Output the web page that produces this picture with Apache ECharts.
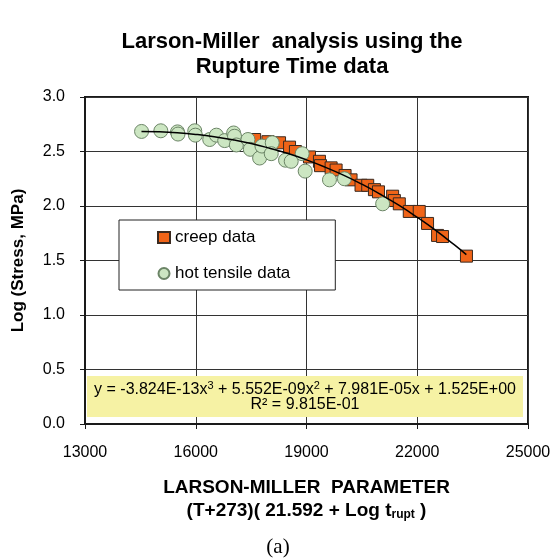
<!DOCTYPE html>
<html>
<head>
<meta charset="utf-8">
<script src="https://cdn.jsdelivr.net/npm/echarts@6/dist/echarts.min.js"></script>
<style>
html,body{margin:0;padding:0;background:#fff;}
#main{width:554px;height:559px;}
</style>
</head>
<body>
<div id="main"></div>
<script>
// creep data (squares)
var creepX = [17595,17955,18270,18541,18700,19081,19351,19380,19667,19802,20045,20207,20477,20658,20840,20950,21333,21380,21514,21784,22054,22279,22550,22685,23333];
var creepY = [2.61,2.59,2.58,2.54,2.50,2.45,2.41,2.37,2.35,2.33,2.28,2.24,2.19,2.19,2.15,2.13,2.09,2.05,2.02,1.95,1.95,1.84,1.73,1.72,1.54];
// hot tensile data (circles)
var hotX = [14532,15054,15505,15520,15973,15990,16378,16559,16784,17027,17050,17100,17414,17478,17730,17793,18072,18045,18432,18586,18883,18964,19622,20027,21063];
var hotY = [2.684,2.69,2.68,2.66,2.69,2.65,2.61,2.65,2.60,2.67,2.64,2.56,2.61,2.52,2.44,2.55,2.58,2.48,2.42,2.41,2.48,2.32,2.24,2.25,2.02];
// polynomial trend line
var trendX = [14530,15000,15500,16000,16500,17000,17500,18000,18500,19000,19500,20000,20500,21000,21500,22000,22500,23000,23330];
var trendY = [2.684,2.681,2.672,2.657,2.636,2.608,2.573,2.530,2.481,2.423,2.357,2.283,2.200,2.108,2.007,1.896,1.776,1.645,1.554];
var yTicks = ['0.0','0.5','1.0','1.5','2.0','2.5','3.0'];

function pairs(xs, ys) {
  var out = [];
  for (var i = 0; i < xs.length; i++) out.push([xs[i], ys[i]]);
  return out;
}

var chart = echarts.init(document.getElementById('main'));
var font = 'Liberation Sans, Arial, sans-serif';
chart.setOption({
  animation: false,
  title: {
    text: 'Larson-Miller  analysis using the\nRupture Time data',
    left: 292, top: 29,
    textAlign: 'center',
    padding: 0,
    textStyle: {fontFamily: font, fontSize: 22, fontWeight: 'bold', color: '#000', lineHeight: 25}
  },
  legend: {
    orient: 'vertical',
    left: 119, top: 220,
    padding: [9, 45, 8, 38],
    itemGap: 19,
    itemWidth: 12, itemHeight: 11,
    backgroundColor: '#fff',
    borderColor: '#222', borderWidth: 1,
    borderRadius: 0,
    textStyle: {fontFamily: font, fontSize: 17, color: '#000'},
    data: [{name: 'creep data', icon: 'rect'}, {name: 'hot tensile data', icon: 'circle'}]
  },
  grid: {
    left: 85, right: 26, top: 97, bottom: 135,
    show: true, borderColor: '#1a1a1a', borderWidth: 2
  },
  xAxis: {
    type: 'value',
    min: 13000, max: 25000, interval: 3000,
    axisLine: {show: true, onZero: false, lineStyle: {color: '#1a1a1a', width: 2}},
    axisTick: {show: true, inside: false, length: 5, lineStyle: {color: '#1a1a1a'}},
    splitLine: {show: true, lineStyle: {color: '#333', width: 1}},
    axisLabel: {
      margin: 21, fontFamily: font, fontSize: 16, color: '#000',
      formatter: function (v) { return String(v); }
    },
    name: '{b|LARSON-MILLER  PARAMETER}\n{b|(T+273)( 21.592 + Log t}{sub|rupt}{b| )}',
    nameLocation: 'middle',
    nameGap: 52,
    nameTextStyle: {
      align: 'center',
      rich: {
        b: {fontFamily: font, fontSize: 19, fontWeight: 'bold', color: '#000', lineHeight: 23},
        sub: {fontFamily: font, fontSize: 12, fontWeight: 'bold', color: '#000', lineHeight: 23, padding: [8, 0, 0, 0]}
      }
    }
  },
  yAxis: {
    type: 'value',
    min: 0, max: 3, interval: 0.5,
    axisLine: {show: true, lineStyle: {color: '#1a1a1a', width: 2}},
    axisTick: {show: true, inside: false, length: 5, lineStyle: {color: '#1a1a1a'}},
    splitLine: {show: true, lineStyle: {color: '#333', width: 1}},
    axisLabel: {
      margin: 20, fontFamily: font, fontSize: 16, color: '#000',
      formatter: function (v) { return yTicks[Math.round(v / 0.5)]; }
    },
    name: 'Log (Stress, MPa)',
    nameLocation: 'middle',
    nameGap: 58,
    nameTextStyle: {fontFamily: font, fontSize: 17, fontWeight: 'bold', color: '#000'}
  },
  graphic: [
    {
      type: 'rect', z: 10,
      shape: {x: 87, y: 376, width: 436, height: 41},
      style: {fill: '#f6f2a4'}
    },
    {
      type: 'text', z: 11,
      x: 305, y: 397,
      style: {
        text: '{n|y = -3.824E-13x}{s|3}{n| + 5.552E-09x}{s|2}{n| + 7.981E-05x + 1.525E+00}\n{n|R² = 9.815E-01}',
        align: 'center', verticalAlign: 'middle',
        rich: {
          n: {fontFamily: font, fontSize: 16, fill: '#000', lineHeight: 15},
          s: {fontFamily: font, fontSize: 11, fill: '#000', lineHeight: 15, padding: [0, 0, 7, 0]}
        }
      }
    },
    {
      type: 'text',
      x: 278, y: 547,
      style: {text: '(a)', align: 'center', verticalAlign: 'middle', font: '21px "Liberation Serif", serif', fill: '#000'}
    }
  ],
  series: [
    {
      name: 'creep data',
      type: 'scatter',
      symbol: 'rect',
      symbolSize: 12,
      itemStyle: {color: '#f06418', borderColor: '#3a2a20', borderWidth: 1, opacity: 1},
      data: pairs(creepX, creepY),
      z: 3
    },
    {
      name: 'hot tensile data',
      type: 'scatter',
      symbol: 'circle',
      symbolSize: 14,
      itemStyle: {color: '#cce6c2', borderColor: '#6b8466', borderWidth: 1, opacity: 1},
      data: pairs(hotX, hotY),
      z: 4
    },
    {
      name: 'trend',
      type: 'line',
      smooth: true,
      showSymbol: false,
      symbol: 'none',
      lineStyle: {color: '#000', width: 1.5},
      data: pairs(trendX, trendY),
      z: 5
    }
  ]
});
</script>
</body>
</html>
